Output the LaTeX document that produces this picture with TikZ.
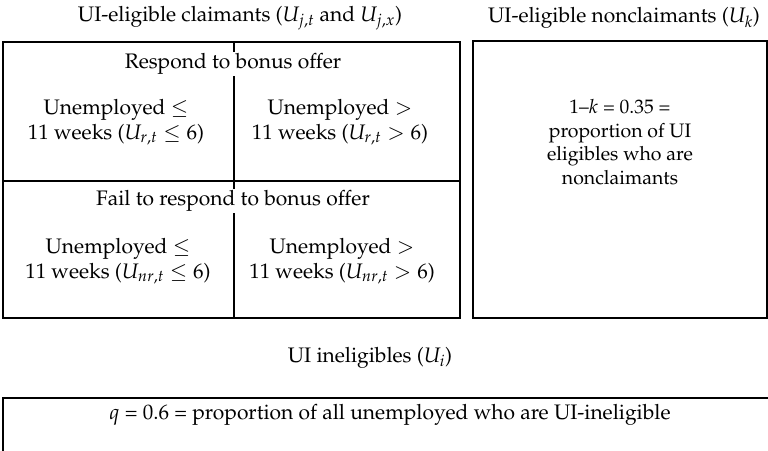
\documentclass[tikz,border=0pt]{standalone}
\usepackage{amsmath}
\usepackage[T1]{fontenc}
\usepackage{mathpazo}

\begin{document}
\begin{tikzpicture}[x=1pt,y=-1pt,
		txt/.style={font=\fontsize{21}{25}\selectfont, align=center, inner sep=1pt},
		cover/.style={txt, fill=white, inner xsep=2pt}]
	\useasboundingbox (0,0) rectangle (768,450);
	\clip (0,0) rectangle (768,450);

	\draw[line width=1.5pt] (3,42) rectangle (460,318);
	\draw[line width=1.5pt] (3,181) -- (460,181);
	\draw[line width=1.3pt] (234,42) -- (234,318);
	\draw[line width=1.5pt] (473,41) rectangle (767,318);
	\draw[line width=1.5pt] (3,452) -- (3,398) -- (770,398);

	\node[txt] (claim) at (240,18) {UI-eligible claimants ($U_{j,t}$ and $U_{j,x}$)};
	\node[txt] (nonclaim) at (624,18) {UI-eligible nonclaimants ($U_k$)};
	\node[txt] (inelig) at (370,358) {UI ineligibles ($U_i$)};

	\node[cover] (resp) at (233,64) {Respond to bonus offer};
	\node[txt] (rshort) at (116,122) {Unemployed $\leq$\\11 weeks ($U_{r,t} \leq 6$)};
	\node[txt] (rlong) at (340,122) {Unemployed $>$\\11 weeks ($U_{r,t} > 6$)};

	\node[cover] (fail) at (233,201) {Fail to respond to bonus offer};
	\node[txt] (nrshort) at (118,261) {Unemployed $\leq$\\11 weeks ($U_{nr,t} \leq 6$)};
	\node[txt] (nrlong) at (342,261) {Unemployed $>$\\11 weeks ($U_{nr,t} > 6$)};

	\node[txt, font=\fontsize{19.5}{23.5}\selectfont] (kshare) at (620,142) {1--$k$ = 0.35 =\\proportion of UI\\eligibles who are\\nonclaimants};
	\node[txt] (qshare) at (390,415) {$q$ = 0.6 = proportion of all unemployed who are UI-ineligible};
\end{tikzpicture}
\end{document}
